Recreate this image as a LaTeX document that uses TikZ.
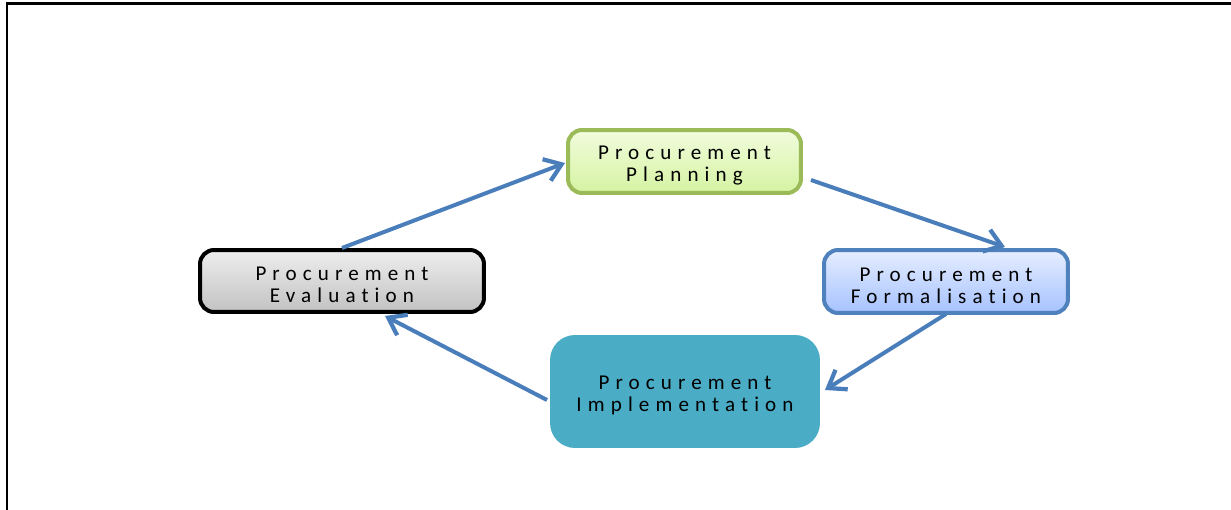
\documentclass[tikz,border=0pt]{standalone}
\usepackage{fontspec}
\setmainfont{Carlito}[Ligatures=NoCommon]
\usetikzlibrary{arrows.meta}

\definecolor{planedge}{HTML}{9BBB59}
\definecolor{plantop}{HTML}{F1FCDD}
\definecolor{planbot}{HTML}{D5F3A2}
\definecolor{evaltop}{HTML}{EEEEEE}
\definecolor{evalbot}{HTML}{C2C2C2}
\definecolor{formedge}{HTML}{4F81BD}
\definecolor{formtop}{HTML}{E6EEFF}
\definecolor{formbot}{HTML}{A6C2FF}
\definecolor{implfill}{HTML}{4BACC6}
\definecolor{flow}{HTML}{4A7EBB}

% extra room above the first line so the label sits a little low in its box
\newcommand\labeltop{\rule{0pt}{12.2pt}}

\tikzset{
  stage/.style={rounded corners=0.28cm, line width=0.08cm, outer sep=0pt,
    inner sep=0pt, align=center,
    font=\fontsize{12}{12.5}\selectfont\addfontfeature{LetterSpace=29}},
  flowarrow/.style={draw=flow, line width=0.08cm,
    -{Straight Barb[length=0.32cm, width=0.46cm, line width=0.085cm]}},
}

\begin{document}
\begin{tikzpicture}[x=0.02cm, y=-0.02cm]
  \useasboundingbox (0,0) rectangle (1231,510);

  % page frame (top and left edges only)
  \draw[line width=0.06cm] (6,4) -- (1231,4);
  \draw[line width=0.045cm] (7,4) -- (7,510);

  % the four stages of the cycle
  \node[stage, draw=planedge, top color=plantop, bottom color=planbot,
        minimum width=4.66cm, minimum height=1.26cm]
        (plan) at (684.5,161.5) {\labeltop Procurement\\Planning};
  \node[stage, draw=black, top color=evaltop, bottom color=evalbot,
        minimum width=5.68cm, minimum height=1.24cm]
        (eval) at (342,281) {\labeltop Procurement\\Evaluation};
  \node[stage, draw=formedge, top color=formtop, bottom color=formbot,
        minimum width=4.88cm, minimum height=1.26cm]
        (form) at (946,281.5) {\labeltop Procurement\\Formalisation};
  \node[stage, fill=implfill, draw=none, rounded corners=0.5cm,
        minimum width=5.4cm, minimum height=2.26cm]
        (impl) at (685,391.5) {\labeltop Procurement\\Implementation};

  % cycle connectors
  \draw[flowarrow] ([yshift=0.04cm]eval.north) -- ([xshift=-0.06cm,yshift=-0.03cm]plan.west);
  \draw[flowarrow] ([xshift=0.2cm,yshift=-0.37cm]plan.east) -- ([xshift=1.18cm,yshift=0.06cm]form.north);
  \draw[flowarrow] ([yshift=-0.02cm]form.south) -- ([xshift=0.1cm,yshift=0.03cm]impl.east);
  \draw[flowarrow] ([xshift=-0.06cm,yshift=-0.17cm]impl.west) -- ([xshift=0.86cm,yshift=-0.08cm]eval.south);
\end{tikzpicture}
\end{document}
